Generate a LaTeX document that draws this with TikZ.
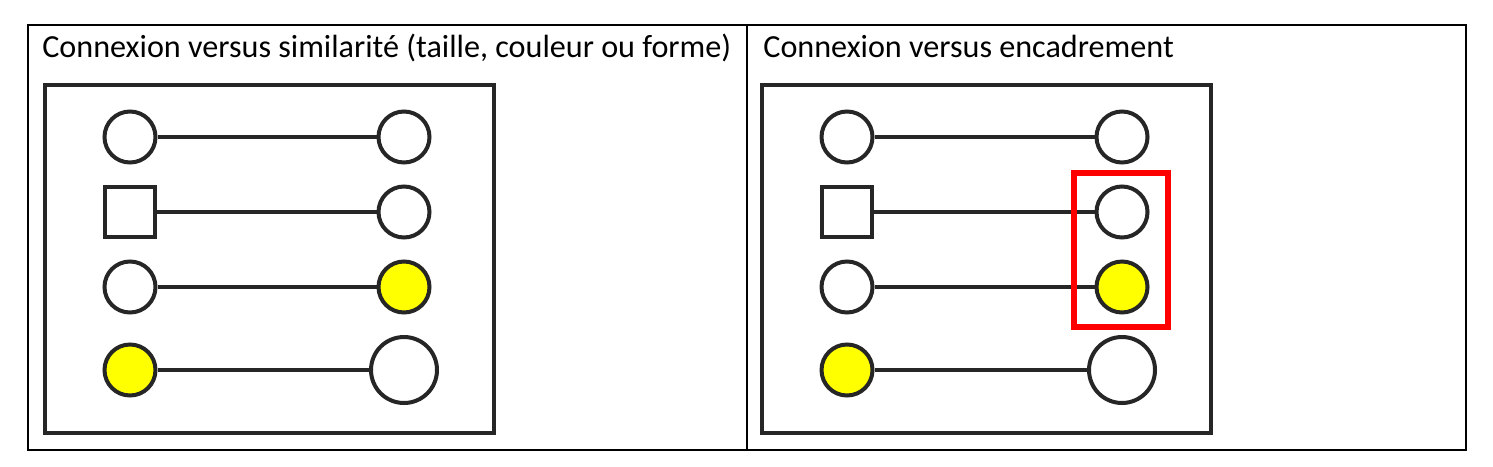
\documentclass[tikz,border=0pt]{standalone}
\usepackage{fontspec}
\setmainfont{Carlito}
\usepackage{tikz}
\usetikzlibrary{shapes,arrows,positioning}
\definecolor{darkline}{HTML}{262626}
\definecolor{markyellow}{HTML}{FFFF00}

\begin{document}
\begin{tikzpicture}[
    node distance=1.5cm,
    dot/.style={circle, draw=darkline, line width=0.08cm, fill=white, minimum size=1.02cm, inner sep=0pt},
    bigdot/.style={dot, minimum size=1.32cm},
    yellowdot/.style={dot, fill=markyellow},
    squarebox/.style={rectangle, draw=darkline, line width=0.08cm, fill=white, minimum size=1.0cm, inner sep=0pt},
    frame/.style={draw=darkline, line width=0.08cm},
    link/.style={draw=darkline, line width=0.08cm},
    title/.style={anchor=base west, inner sep=0pt, font=\fontsize{18.3}{22}\selectfont}
]
\useasboundingbox (0,0) rectangle (29.86,-9.32);
% Table
\draw[line width=0.025cm] (0.56,-0.5) rectangle (29.32,-9.0);
\draw[line width=0.025cm] (14.94,-0.5) -- (14.94,-9.0);
% Titles
\node[title] (sim_title) at (0.84,-1.14) {Connexion versus similarité (taille, couleur ou forme)};
\node[title] (enc_title) at (15.26,-1.14) {Connexion versus encadrement};
% Frames
\draw[frame] (0.9,-1.70) rectangle (9.88,-8.66);
\draw[frame] (15.24,-1.70) rectangle (24.22,-8.66);
% Left panel
\node[dot] (sim_l1) at (2.6,-2.74) {};
\node[squarebox, below of=sim_l1] (sim_l2) {};
\node[dot, below of=sim_l2] (sim_l3) {};
\node[yellowdot, below of=sim_l3, node distance=1.66cm] (sim_l4) {};
\node[dot, right of=sim_l1, node distance=5.48cm] (sim_r1) {};
\node[dot, right of=sim_l2, node distance=5.48cm] (sim_r2) {};
\node[yellowdot, right of=sim_l3, node distance=5.48cm] (sim_r3) {};
\node[bigdot, right of=sim_l4, node distance=5.48cm] (sim_r4) {};
% Right panel
\node[dot] (enc_l1) at (16.94,-2.74) {};
\node[squarebox, below of=enc_l1] (enc_l2) {};
\node[dot, below of=enc_l2] (enc_l3) {};
\node[yellowdot, below of=enc_l3, node distance=1.66cm] (enc_l4) {};
\node[dot, right of=enc_l1, node distance=5.5cm] (enc_r1) {};
\node[dot, right of=enc_l2, node distance=5.5cm] (enc_r2) {};
\node[yellowdot, right of=enc_l3, node distance=5.5cm] (enc_r3) {};
\node[bigdot, right of=enc_l4, node distance=5.5cm] (enc_r4) {};
% Links
\foreach \i in {1,2,3,4} {
    \draw[link] (sim_l\i) -- (sim_r\i);
    \draw[link] (enc_l\i) -- (enc_r\i);
}
% Red enclosure
\draw[red, line width=0.12cm] (21.48,-3.46) rectangle (23.36,-6.54);
\end{tikzpicture}
\end{document}
